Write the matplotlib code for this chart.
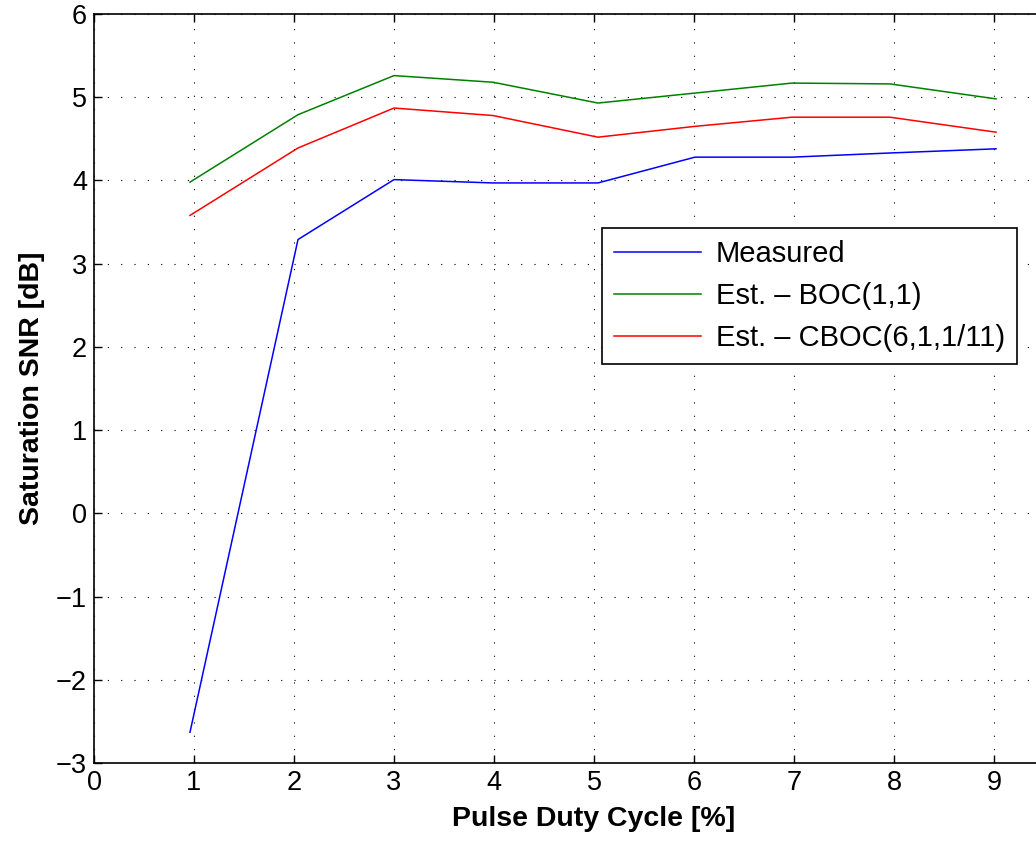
import matplotlib
matplotlib.use("Agg")
import matplotlib.pyplot as plt

plt.rcParams['font.family'] = ['Liberation Sans', 'DejaVu Sans']

# duty cycle settings [%] and saturation SNR [dB]
duty = [0.96, 2.04, 3.0, 3.99, 5.04, 6.01, 6.98, 7.96, 9.02]
snr_measured = [-2.63, 3.29, 4.01, 3.97, 3.97, 4.28, 4.28, 4.33, 4.38]
snr_boc = [3.98, 4.79, 5.26, 5.18, 4.93, 5.05, 5.17, 5.16, 4.98]
snr_cboc = [3.58, 4.39, 4.87, 4.78, 4.52, 4.65, 4.76, 4.76, 4.58]

labels = ['Measured', 'Est. \u2013 BOC(1,1)', 'Est. \u2013 CBOC(6,1,1/11)']
colors = ['#0000ff', '#008000', '#ff0000']

fig = plt.figure(figsize=(10.36, 8.41), dpi=100)
# axes runs to x=10, the right part falls outside the saved canvas
ax = fig.add_axes([94 / 1036, 78 / 841, 1000 / 1036, 749 / 841])

for y, lab, c in zip([snr_measured, snr_boc, snr_cboc], labels, colors):
    ax.plot(duty, y, color=c, lw=1.1, label=lab)

ax.set_xlim(0, 10)
ax.set_ylim(-3, 6)
ax.set_xticks(range(0, 10))
ax.set_yticks(range(-3, 7))
ax.grid(True, color='black', linestyle=(0, (1, 11)), lw=0.8)
ax.tick_params(direction='in', length=6, width=1, labelsize=19.5,
               top=True, right=True, pad=5)
for s in ax.spines.values():
    s.set_linewidth(1.2)

ax.set_xlabel('Pulse Duty Cycle [%]', fontsize=20.5, fontweight='bold', labelpad=7)
ax.set_ylabel('Saturation SNR [dB]', fontsize=20.5, fontweight='bold', labelpad=8)

leg = ax.legend(loc='upper left', bbox_to_anchor=(0.508, 0.714), borderaxespad=0,
                fontsize=21, handlelength=3.0, handletextpad=0.5,
                labelspacing=0.48, borderpad=0.4, fancybox=False, framealpha=1)
leg.get_frame().set_edgecolor('black')
leg.get_frame().set_linewidth(1.2)

fig.savefig('out.png', dpi=100)
